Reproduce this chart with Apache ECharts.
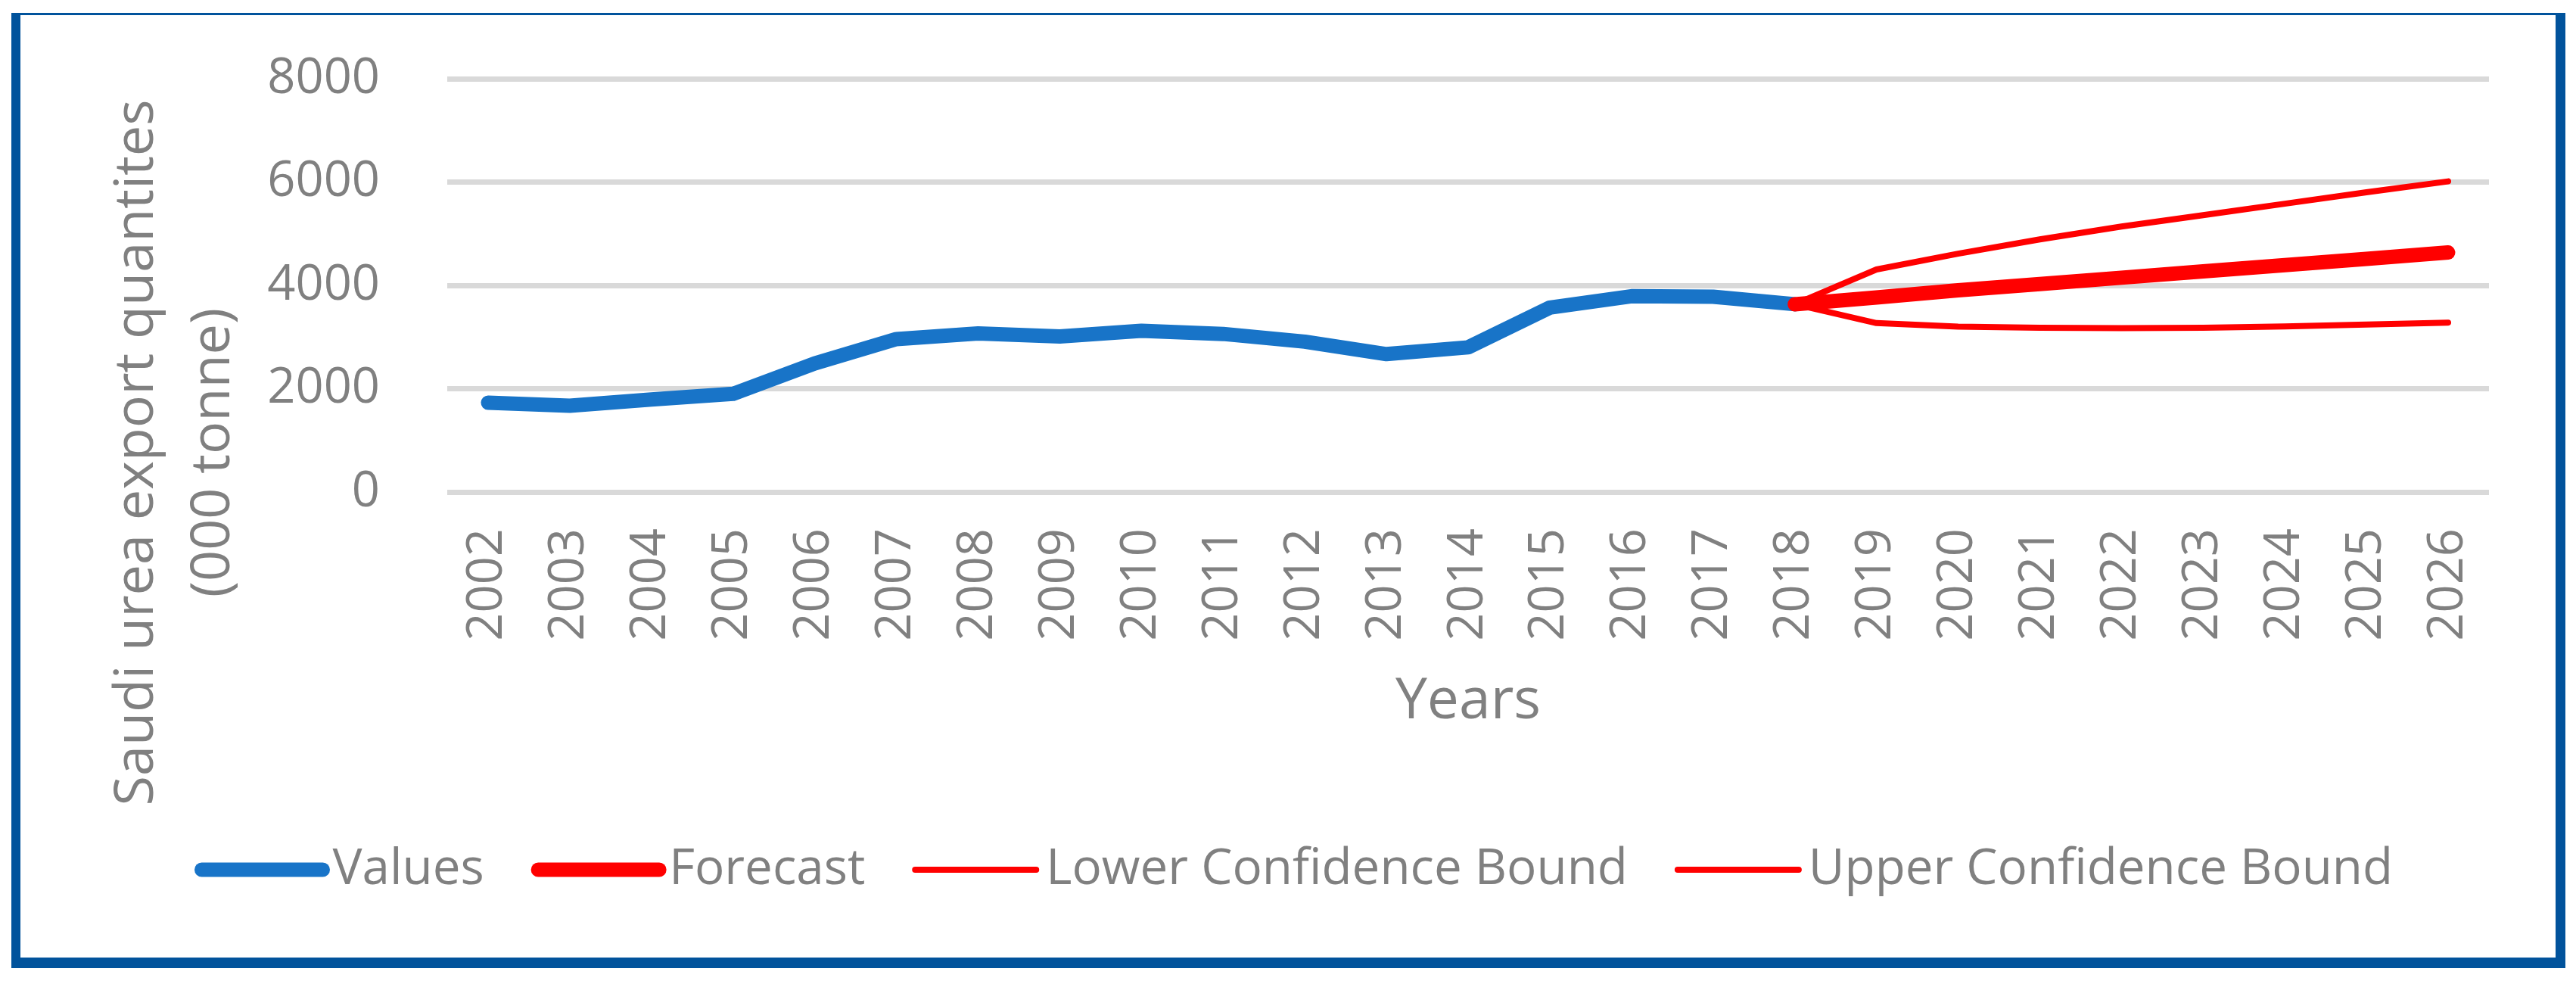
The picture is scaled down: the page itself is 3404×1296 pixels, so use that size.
<!DOCTYPE html>
<html>
<head>
<meta charset="utf-8">
<script src="https://cdn.jsdelivr.net/npm/echarts@6/dist/echarts.min.js"></script>
<style>
    html, body { margin: 0; padding: 0; background: #fff; }
    #frame {
        position: absolute; left: 15px; top: 17px;
        width: 3375px; height: 1262px; box-sizing: border-box;
        border: solid #01539c; border-width: 3px 13px 14px 12px;
    }
    #chart { position: absolute; left: 0; top: 0; width: 3404px; height: 1296px; }
</style>
</head>
<body>
<div id="frame"></div>
<div id="chart"></div>
<script>
// 数据
var years = ['2002','2003','2004','2005','2006','2007','2008','2009','2010','2011','2012','2013',
    '2014','2015','2016','2017','2018','2019','2020','2021','2022','2023','2024','2025','2026'];
var values = [1730, 1670, 1790, 1900, 2490, 2960, 3070, 3010, 3120, 3060, 2910, 2670,
    2800, 3570, 3790, 3780, 3635, null, null, null, null, null, null, null, null];
var forecast = [null, null, null, null, null, null, null, null, null, null, null, null,
    null, null, null, null, 3635, 3765, 3905, 4025, 4148, 4270, 4392, 4514, 4636];
var lowerBound = [null, null, null, null, null, null, null, null, null, null, null, null,
    null, null, null, null, 3635, 3270, 3201, 3180, 3172, 3180, 3205, 3240, 3279];
var upperBound = [null, null, null, null, null, null, null, null, null, null, null, null,
    null, null, null, null, 3635, 4307, 4614, 4890, 5139, 5360, 5581, 5802, 6013];
var yTicks = [0, 2000, 4000, 6000, 8000];

var font = '"Open Sans", "Noto Sans", sans-serif';
var grey = '#808080';
var blue = '#1874c8';
var red = '#ff0000';

var myChart = echarts.init(document.getElementById('chart'));

myChart.setOption({
    animation: false,
    textStyle: { fontFamily: font },
    grid: { left: 591, right: 115, top: 104, bottom: 646, containLabel: false },
    legend: {
        left: 252,
        top: 1111,
        itemWidth: 160,
        itemHeight: 19,
        itemGap: 62,
        itemStyle: { opacity: 0 },
        textStyle: { color: grey, fontSize: 65.5, fontFamily: font, padding: [0, 0, 0, 8] },
        data: [
            { name: 'Values', lineStyle: { width: 19, cap: 'round' } },
            { name: 'Forecast', lineStyle: { width: 19, cap: 'round' } },
            { name: 'Lower Confidence Bound', lineStyle: { width: 8, cap: 'round' } },
            { name: 'Upper Confidence Bound', lineStyle: { width: 8, cap: 'round' } }
        ]
    },
    xAxis: {
        type: 'category',
        data: years,
        boundaryGap: true,
        axisLine: { show: false },
        axisTick: { show: false },
        axisLabel: { rotate: 90, margin: 48, color: grey, fontSize: 65, fontFamily: font },
        name: 'Years',
        nameLocation: 'middle',
        nameGap: 240,
        nameTextStyle: { color: grey, fontSize: 75, fontFamily: font }
    },
    yAxis: {
        type: 'value',
        min: yTicks[0],
        max: yTicks[yTicks.length - 1],
        interval: 2000,
        axisLine: { show: false },
        axisTick: { show: false },
        axisLabel: {
            margin: 89, color: grey, fontSize: 65, fontFamily: font,
            formatter: function (v) { return String(v); }
        },
        splitLine: { lineStyle: { color: '#d9d9d9', width: 7 } }
    },
    graphic: [{
        type: 'text',
        x: 232,
        y: 598,
        rotation: Math.PI / 2,
        style: {
            text: 'Saudi urea export quantites\n(000 tonne)',
            fill: grey,
            font: '72px "Open Sans", "Noto Sans", sans-serif',
            lineHeight: 101,
            align: 'center',
            verticalAlign: 'middle'
        }
    }],
    series: [
        {
            name: 'Values', type: 'line', data: values,
            symbol: 'none', showSymbol: false,
            lineStyle: { color: blue, width: 19, cap: 'round', join: 'round' },
            itemStyle: { color: blue }
        },
        {
            name: 'Lower Confidence Bound', type: 'line', data: lowerBound,
            symbol: 'none', showSymbol: false,
            lineStyle: { color: red, width: 8, cap: 'round', join: 'round' },
            itemStyle: { color: red }
        },
        {
            name: 'Upper Confidence Bound', type: 'line', data: upperBound,
            symbol: 'none', showSymbol: false,
            lineStyle: { color: red, width: 8, cap: 'round', join: 'round' },
            itemStyle: { color: red }
        },
        {
            name: 'Forecast', type: 'line', data: forecast,
            symbol: 'none', showSymbol: false,
            lineStyle: { color: red, width: 19, cap: 'round', join: 'round' },
            itemStyle: { color: red }
        }
    ]
});
</script>
</body>
</html>
